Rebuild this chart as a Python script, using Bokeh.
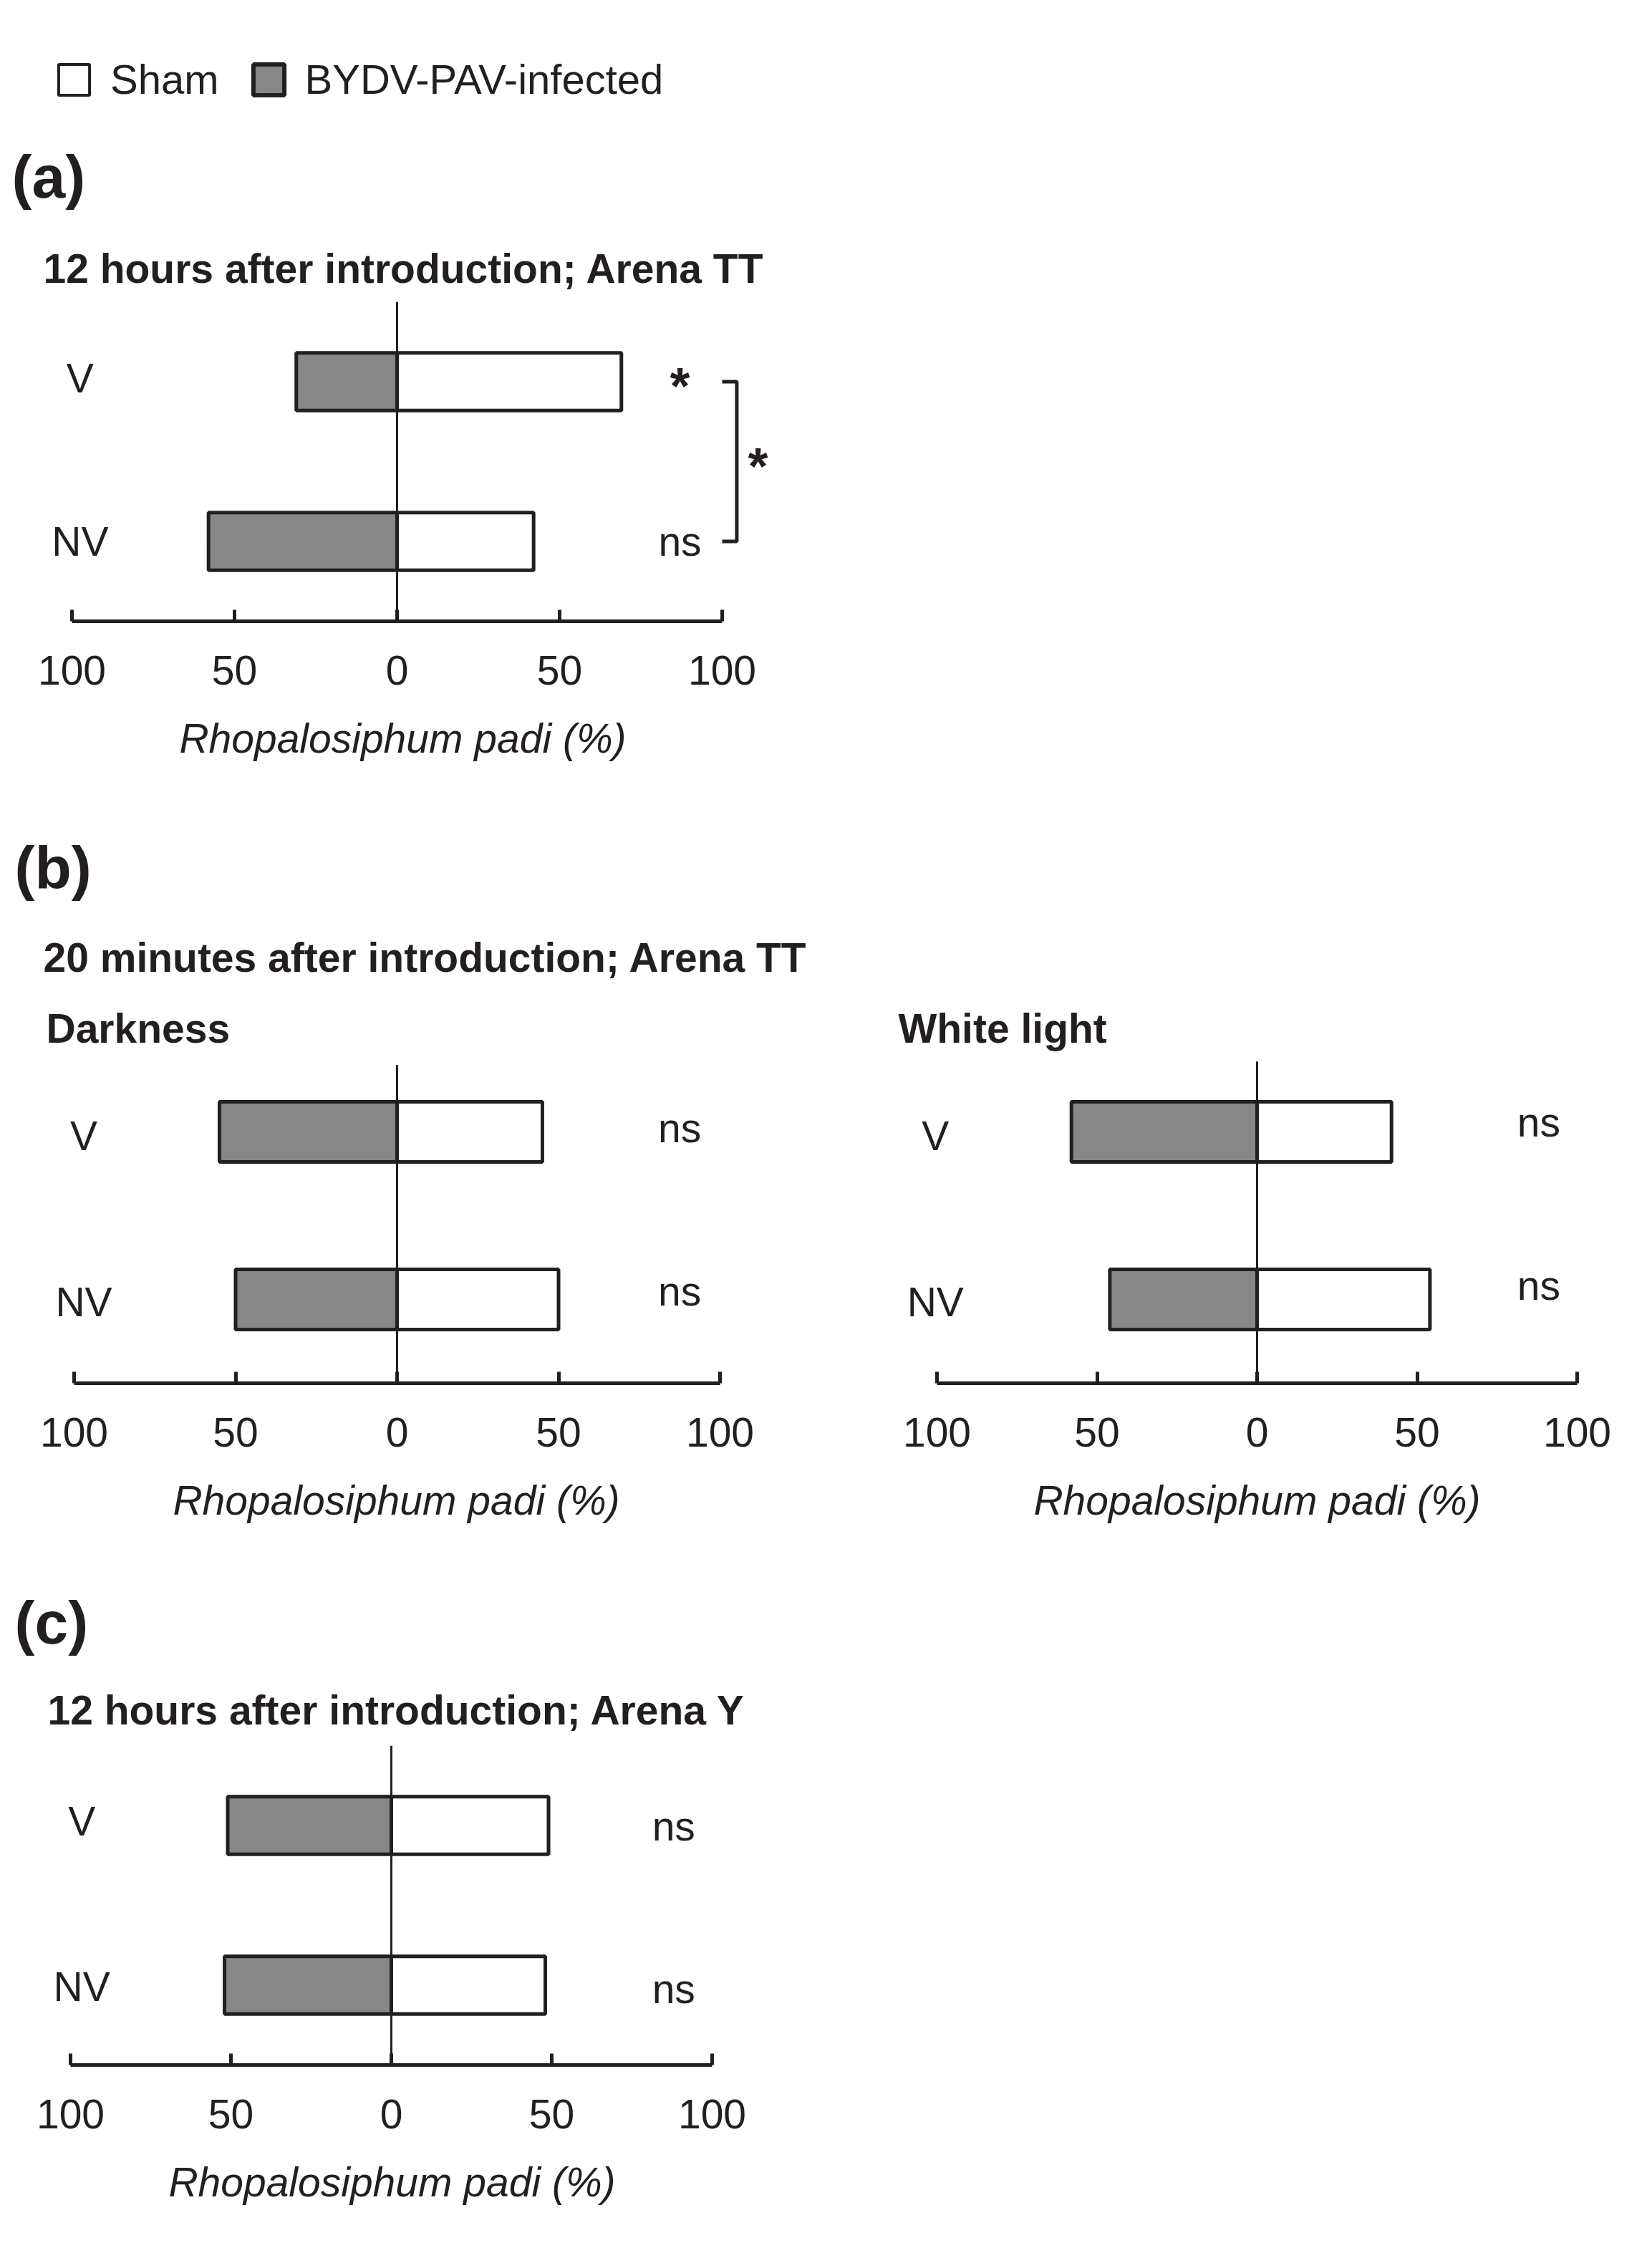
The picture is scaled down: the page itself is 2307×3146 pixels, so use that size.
from bokeh.plotting import figure
from bokeh.models import Range1d, FactorRange, FixedTicker, Legend, LegendItem, ColumnDataSource
from bokeh.layouts import column, row
from bokeh.embed import file_html
from bokeh.resources import INLINE
from bokeh.core.properties import value

# ---------------- data ----------------
groups = ["V", "NV"]
a_infected = [31, 58]
a_sham = [69, 42]
a_sig = ["*", "ns"]
a_between = "*"
dark_infected = [55, 50]
dark_sham = [45, 50]
dark_sig = ["ns", "ns"]
white_infected = [58, 46]
white_sham = [42, 54]
white_sig = ["ns", "ns"]
c_infected = [51, 52]
c_sham = [49, 48]
c_sig = ["ns", "ns"]
tick_values = [-100, -50, 0, 50, 100]
tick_labels = ["100", "50", "0", "50", "100"]
series_names = ["Sham", "BYDV-PAV-infected"]
x_title = "Rhopalosiphum padi (%)"

# ---------------- style ----------------
FONT_NAME = "Liberation Sans"
FONT = value(FONT_NAME)
INK = "#231f20"
GRAY = "#878787"
FS = "57px"
BOTTOM = 240
TOTAL_W = 2300


def header(height, top_ref, items):
    p = figure(width=TOTAL_W, height=height, x_range=Range1d(0, TOTAL_W), y_range=Range1d(height, 0),
               output_backend="svg", toolbar_location=None, min_border=0,
               x_axis_location=None, y_axis_location=None)
    p.outline_line_color = None
    p.grid.visible = False
    for (xr, yr, txt, size, style) in items:
        p.text(x=[xr], y=[yr - top_ref], text=[txt], text_font=FONT, text_font_size=size,
               text_font_style=style, text_color=INK, text_baseline="alphabetic", text_align="left")
    return p


def panel(infected, sham, sig, frame_left, frame_w, zero_ref, k, frame_h, label_x, label_dy,
          sig_x, sig_dy, zero_top=2.0, border_left=0, border_right=0, border_top=0,
          title=None, title_offset=0):
    start = (frame_left - zero_ref) / k
    end = (frame_left + frame_w - zero_ref) / k
    p = figure(width=frame_w + border_left + border_right, height=frame_h + BOTTOM + border_top,
               x_range=Range1d(start, end), y_range=FactorRange(factors=groups[::-1]),
               output_backend="svg", toolbar_location=None, y_axis_location=None,
               min_border_left=border_left, min_border_right=border_right,
               min_border_top=border_top, min_border_bottom=BOTTOM)
    p.outline_line_color = None
    p.grid.visible = False
    if title:
        p.title.text = title
        p.title.text_font = FONT_NAME
        p.title.text_font_size = FS
        p.title.text_font_style = "bold"
        p.title.text_color = INK
        p.title.align = "left"
        p.title.offset = title_offset
        p.title.standoff = -8

    src = ColumnDataSource(dict(group=groups, inf=[-v for v in infected], sham=sham))
    p.hbar(y="group", left="inf", right=0, height=0.36, source=src,
           fill_color=GRAY, line_color=INK, line_width=5)
    p.hbar(y="group", left=0, right="sham", height=0.36, source=src,
           fill_color="white", line_color=INK, line_width=5)
    # zero reference line (synthetic categorical coordinates: 0 = bottom of frame)
    p.segment(x0=[0], x1=[0], y0=[0], y1=[zero_top], line_color=INK, line_width=3)

    ax = p.xaxis[0]
    ax.ticker = FixedTicker(ticks=tick_values)
    ax.major_label_overrides = {t: l for t, l in zip(tick_values, tick_labels)}
    ax.bounds = (-100, 100)
    ax.axis_line_width = 5
    ax.axis_line_color = INK
    ax.major_tick_line_width = 5
    ax.major_tick_line_color = INK
    ax.major_tick_in = 16
    ax.major_tick_out = 0
    ax.minor_tick_line_color = None
    ax.major_label_text_font = FONT_NAME
    ax.major_label_text_font_size = FS
    ax.major_label_text_color = INK
    ax.major_label_standoff = 48
    ax.axis_label = x_title
    ax.axis_label_text_font = FONT_NAME
    ax.axis_label_text_font_style = "italic"
    ax.axis_label_text_font_size = FS
    ax.axis_label_text_color = INK
    ax.axis_label_standoff = 40

    p.text(x=[label_x] * len(groups), y=groups, text=groups, y_offset=label_dy,
           text_font=FONT, text_font_size=FS, text_color=INK,
           text_align="center", text_baseline="middle")
    for g, s, dy in zip(groups, sig, sig_dy):
        if s == "*":
            p.text(x=[sig_x], y=[g], text=[s], y_offset=[dy + 6], text_font=FONT, text_font_size="72px",
                   text_font_style="bold", text_color=INK, text_align="center", text_baseline="middle")
        else:
            p.text(x=[sig_x], y=[g], text=[s], y_offset=[dy], text_font=FONT, text_font_size=FS,
                   text_color=INK, text_align="center", text_baseline="middle")
    return p


# ---------------- header (legend + a) ----------------
ha_top = 0
ha_h = 421
ha = header(ha_h, ha_top, [
    (16, 246, "(a)", "84px", "bold"),
    (60, 374, "12 hours after introduction; Arena TT", FS, "bold"),
])
leg_src = ColumnDataSource(dict(y=[float("nan")], left=[0], right=[0]))
r_sham = ha.hbar(y="y", left="left", right="right", height=1, source=leg_src,
                 fill_color="white", line_color=INK, line_width=4)
r_inf = ha.hbar(y="y", left="left", right="right", height=1, source=leg_src,
                fill_color=GRAY, line_color=INK, line_width=6)
legend = Legend(items=[LegendItem(label=series_names[0], renderers=[r_sham]),
                       LegendItem(label=series_names[1], renderers=[r_inf])],
                orientation="horizontal", location=(76, 277),
                glyph_width=54, glyph_height=54, label_standoff=24, spacing=42,
                padding=0, margin=0, border_line_color=None, background_fill_alpha=0,
                label_text_font=FONT_NAME, label_text_font_size="58px", label_text_color=INK)
ha.add_layout(legend)

# ---------------- panel a ----------------
pa = panel(a_infected, a_sham, a_sig, frame_left=0, frame_w=1124, zero_ref=554, k=4.54, frame_h=446,
           label_x=-97.5, label_dy=[-5, 0], sig_x=87, sig_dy=[0, 0])
bx0, bx1 = 100, 104.5
pa.line(x=[bx0, bx1, bx1, bx0], y=["V", "V", "NV", "NV"], line_color=INK, line_width=5)
pa.text(x=[111], y=[1.0], text=[a_between], y_offset=[6], text_font=FONT, text_font_size="72px",
        text_font_style="bold", text_color=INK, text_align="center", text_baseline="middle")

# ---------------- header b ----------------
ROW_B_TOP = 75
hb_top = ha_top + ha_h + 446 + BOTTOM
hb_h = 1463 - ROW_B_TOP - hb_top
hb = header(hb_h, hb_top, [
    (20, 1211, "(b)", "84px", "bold"),
    (60, 1336, "20 minutes after introduction; Arena TT", FS, "bold"),
])

pd = panel(dark_infected, dark_sham, dark_sig, frame_left=0, frame_w=1106, zero_ref=554, k=4.51,
           frame_h=468, label_x=-97, label_dy=[5, 3], sig_x=87.5, sig_dy=[-6, -12], zero_top=1.9,
           border_right=104, border_top=ROW_B_TOP, title="Darkness", title_offset=64)
pw = panel(white_infected, white_sham, white_sig, frame_left=1210, frame_w=1090, zero_ref=1755, k=4.47,
           frame_h=468, label_x=-100.5, label_dy=[5, 3], sig_x=88, sig_dy=[-14, -20], zero_top=1.92,
           border_top=ROW_B_TOP, title="White light", title_offset=44)

# ---------------- header c ----------------
hc_top = 1463 + 468 + BOTTOM
hc_h = 2437 - hc_top
hc = header(hc_h, hc_top, [
    (20, 2265, "(c)", "84px", "bold"),
    (66, 2387, "12 hours after introduction; Arena Y", FS, "bold"),
])

pc = panel(c_infected, c_sham, c_sig, frame_left=0, frame_w=1094, zero_ref=546, k=4.48, frame_h=446,
           label_x=-96.5, label_dy=[-6, 2], sig_x=88, sig_dy=[1, 5])

layout = column(ha, pa, hb, row(pd, pw, spacing=0), hc, pc, spacing=0)

open("out.html", "w").write(file_html(layout, INLINE))
